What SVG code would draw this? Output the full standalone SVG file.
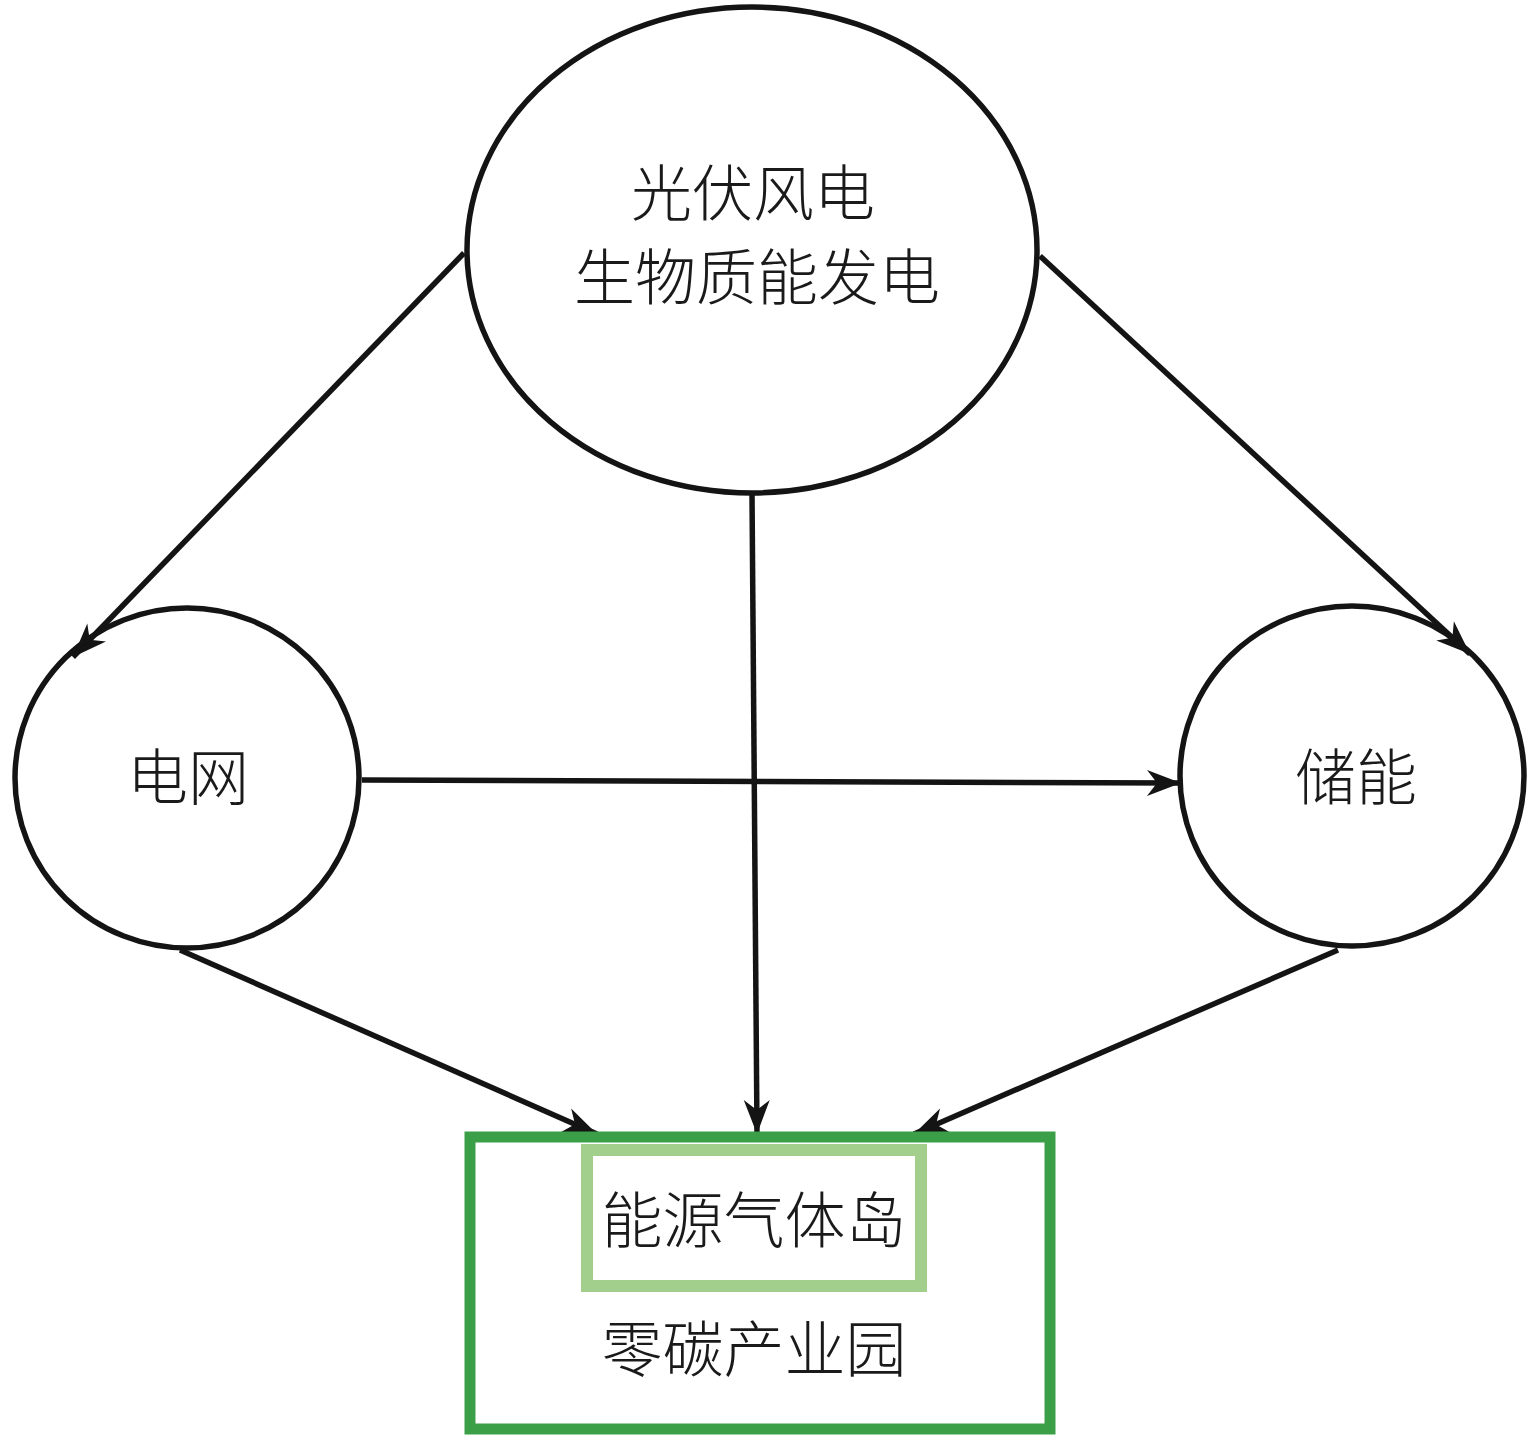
<svg xmlns="http://www.w3.org/2000/svg" width="1539" height="1440" viewBox="0 0 1539 1440">
<style>
.node{fill:none;stroke:#141414;stroke-width:5.5}
.conn{stroke:#141414;stroke-width:5.5;fill:none}
.lbl{font-family:"Noto Sans CJK SC","Noto Sans CJK JP",sans-serif;font-size:61px;fill:#1a1a1a;text-anchor:middle;font-weight:300}
</style>
<defs>
<marker id="ah" markerUnits="userSpaceOnUse" markerWidth="40" markerHeight="32" viewBox="-36 -16 40 32" refX="0" refY="0" orient="auto">
<path d="M0,0 L-34,-13 L-24,0 L-34,13 Z" fill="#141414"/>
</marker>
</defs>
<rect width="1539" height="1440" fill="#ffffff"/>
<g id="connectors">
<line class="conn" x1="464" y1="253" x2="73" y2="657" marker-end="url(#ah)"/>
<line class="conn" x1="1040" y1="256" x2="1470" y2="654" marker-end="url(#ah)"/>
<line class="conn" x1="752" y1="493" x2="757" y2="1134" marker-end="url(#ah)"/>
<line class="conn" x1="362" y1="780" x2="1181" y2="783" marker-end="url(#ah)"/>
<line class="conn" x1="180" y1="950" x2="597" y2="1134" marker-end="url(#ah)"/>
<line class="conn" x1="1338" y1="950" x2="914" y2="1134" marker-end="url(#ah)"/>
</g>
<g id="node-source">
<ellipse class="node" cx="752" cy="250" rx="285" ry="243"/>
<text class="lbl" x="753" y="216">光伏风电</text>
<text class="lbl" x="757" y="300">生物质能发电</text>
</g>
<g id="node-grid">
<ellipse class="node" cx="187" cy="778" rx="172" ry="170"/>
<text class="lbl" x="188" y="800">电网</text>
</g>
<g id="node-storage">
<ellipse class="node" cx="1352" cy="776" rx="172" ry="170"/>
<text class="lbl" x="1356" y="800">储能</text>
</g>
<g id="node-park">
<rect x="470" y="1137" width="580" height="292" fill="none" stroke="#3b9f47" stroke-width="11"/>
<text class="lbl" x="754" y="1372">零碳产业园</text>
</g>
<g id="node-island">
<rect x="587" y="1150" width="334" height="136" fill="none" stroke="#a3cf8c" stroke-width="12"/>
<text class="lbl" x="754" y="1243">能源气体岛</text>
</g>
</svg>
